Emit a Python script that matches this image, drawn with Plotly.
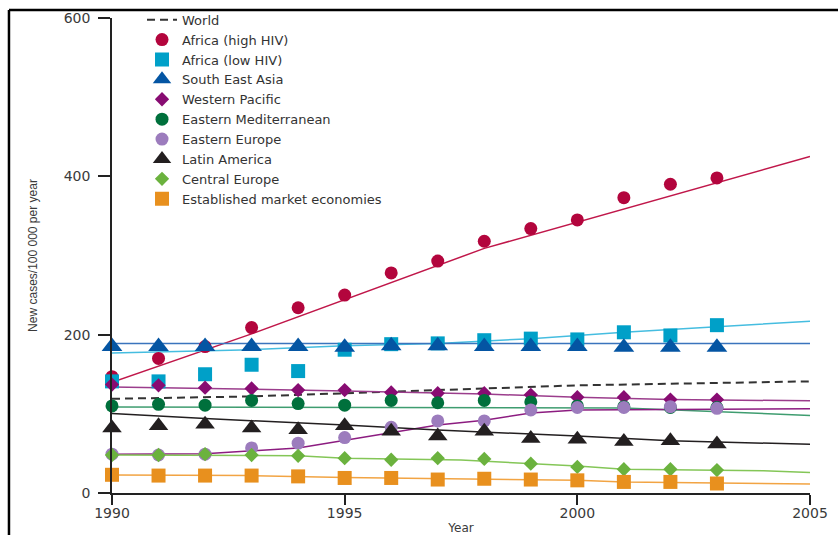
import plotly.graph_objects as go

# Observation years for the regional markers
years = list(range(1990, 2004))

# World trend (dashed line only)
world_years = [1990, 1993, 1995, 1997, 2000, 2003, 2005]
world = [119, 122, 126, 130, 136, 139, 141]

# Regional incidence, new cases per 100 000 per year
africa_high = [147, 170, 185, 209, 234, 250, 278, 293, 318, 334, 345, 373, 390, 398]
africa_low = [141, 141, 150, 162, 154, 181, 188, 189, 193, 195, 194, 203, 199, 212]
south_east_asia = [185, 185, 185, 185, 185, 184, 186, 186, 185, 185, 185, 184, 184, 184]
western_pacific = [137, 136, 133, 132, 130, 130, 127, 126, 126, 124, 121, 121, 118, 118]
eastern_med = [110, 112, 111, 117, 113, 111, 117, 114, 117, 115, 110, 109, 108, 108]
eastern_europe = [49, 48, 49, 57, 63, 70, 83, 91, 91, 105, 108, 108, 109, 107]
latin_america = [82, 85, 87, 82, 80, 85, 78, 72, 78, 69, 68, 65, 66, 62]
central_europe = [48, 48, 49, 48, 47, 44, 42, 44, 43, 37, 33, 30, 30, 29]
established = [23, 22, 22, 22, 21, 19, 19, 17, 18, 17, 16, 14, 14, 12]

# Fitted trends (knot years and values)
africa_high_fit_years = [1990, 1993, 1998, 2005]
africa_high_fit = [140, 201, 309, 425]
africa_low_fit_years = [1990, 1993, 1995, 1997, 1999, 2001, 2003, 2005]
africa_low_fit = [177, 181, 186, 189, 195, 203, 210, 217]
sea_fit_years = [1990, 2005]
sea_fit = [189, 189]
wp_fit_years = [1990, 1993, 1995, 1998, 2000, 2002, 2005]
wp_fit = [134, 131, 129, 125, 121, 118, 116.5]
em_fit_years = [1990, 2001, 2005]
em_fit = [108.5, 107.5, 98]
ee_fit_years = [1990, 1992, 1994, 1996, 1997, 1998, 1999, 2000, 2005]
ee_fit = [49, 49.5, 57, 76, 86, 92, 101, 105, 106.5]
la_fit_years = [1990, 1992, 1995, 1997, 2000, 2002, 2005]
la_fit = [100.5, 94, 86, 79.5, 72, 66, 61.5]
ce_fit_years = [1990, 1994, 1995, 1997.5, 2000, 2001, 2004, 2005]
ce_fit = [48, 47, 44, 41.6, 34, 30, 28, 26]
eme_fit_years = [1990, 1993, 1995, 1997, 2000, 2001, 2005]
eme_fit = [22.7, 22, 19.5, 18, 16, 14, 11.4]

series = [
    ("Africa (high HIV)", africa_high, africa_high_fit_years, africa_high_fit),
    ("Africa (low HIV)", africa_low, africa_low_fit_years, africa_low_fit),
    ("South East Asia", south_east_asia, sea_fit_years, sea_fit),
    ("Western Pacific", western_pacific, wp_fit_years, wp_fit),
    ("Eastern Mediterranean", eastern_med, em_fit_years, em_fit),
    ("Eastern Europe", eastern_europe, ee_fit_years, ee_fit),
    ("Latin America", latin_america, la_fit_years, la_fit),
    ("Central Europe", central_europe, ce_fit_years, ce_fit),
    ("Established market economies", established, eme_fit_years, eme_fit),
]

# symbol, marker colour, line colour, marker size
styles = [
    ("circle", "#b3053d", "#c0174a", 13),
    ("square", "#00a0c8", "#45bde0", 14),
    ("triangle-up", "#0455a3", "#3a74bd", 18),
    ("diamond", "#880c72", "#9b3d8c", 11),
    ("circle", "#00703c", "#3f9d70", 13),
    ("circle", "#9c7cbd", "#8c1c80", 13),
    ("triangle-up", "#231f20", "#231f20", 17),
    ("diamond", "#6bb23e", "#84c657", 11),
    ("square", "#e8901e", "#f2a443", 14),
]

fig = go.Figure()

fig.add_trace(go.Scatter(
    x=world_years, y=world, mode="lines", name="World",
    line=dict(color="#333333", width=2, dash="8px,5px"),
))

for (name, vals, fy, fv), (sym, mcol, lcol, size) in zip(series, styles):
    fig.add_trace(go.Scatter(
        x=fy, y=fv, mode="lines", showlegend=False, hoverinfo="skip",
        line=dict(color=lcol, width=1.5),
    ))

for (name, vals, fy, fv), (sym, mcol, lcol, size) in zip(series, styles):
    fig.add_trace(go.Scatter(
        x=years, y=vals, mode="markers", name=name, cliponaxis=False,
        marker=dict(symbol=sym, color=mcol, size=size, line=dict(width=0)),
    ))

axis_font = dict(family="DejaVu Sans, Verdana, sans-serif", size=14, color="#3a3a3a")

fig.update_layout(
    width=838, height=535,
    margin=dict(l=112, r=28, t=18, b=42, autoexpand=False),
    paper_bgcolor="white", plot_bgcolor="white",
    showlegend=True,
    legend=dict(
        x=0.043, y=1.028, xanchor="left", yanchor="top",
        bgcolor="rgba(0,0,0,0)", borderwidth=0,
        font=dict(family="DejaVu Sans, Verdana, sans-serif", size=13, color="#333333"),
        tracegroupgap=0,
    ),
    xaxis=dict(
        range=[1990, 2005], tickvals=[1990, 1995, 2000, 2005],
        ticks="outside", ticklen=10, tickwidth=1.5, tickcolor="#222222",
        showline=True, linecolor="#222222", linewidth=1.5,
        showgrid=False, zeroline=False, tickfont=axis_font, automargin=False,
        ticklabelstandoff=-4,
        title=dict(text="Year", font=dict(family="DejaVu Sans, Verdana, sans-serif", size=12, color="#3a3a3a"), standoff=6),
    ),
    yaxis=dict(
        range=[0, 600], tickvals=[0, 200, 400, 600],
        ticks="outside", ticklen=12, tickwidth=1.5, tickcolor="#222222",
        showline=True, linecolor="#222222", linewidth=1.5,
        showgrid=False, zeroline=False, tickfont=axis_font, ticklabelstandoff=5,
        automargin=False,
        title=dict(text="New cases/100 000 per year", font=dict(family="Liberation Sans, Arial, sans-serif", size=12, color="#3a3a3a"), standoff=24),
    ),
    shapes=[
        dict(type="line", xref="paper", yref="paper", x0=-0.1476, x1=1.05, y0=1.0168, y1=1.0168,
             line=dict(color="black", width=2.5)),
        dict(type="line", xref="paper", yref="paper", x0=-0.1476, x1=-0.1476, y0=1.0168, y1=-0.1,
             line=dict(color="black", width=2.5)),
    ],
)

fig.write_html("out.html")
